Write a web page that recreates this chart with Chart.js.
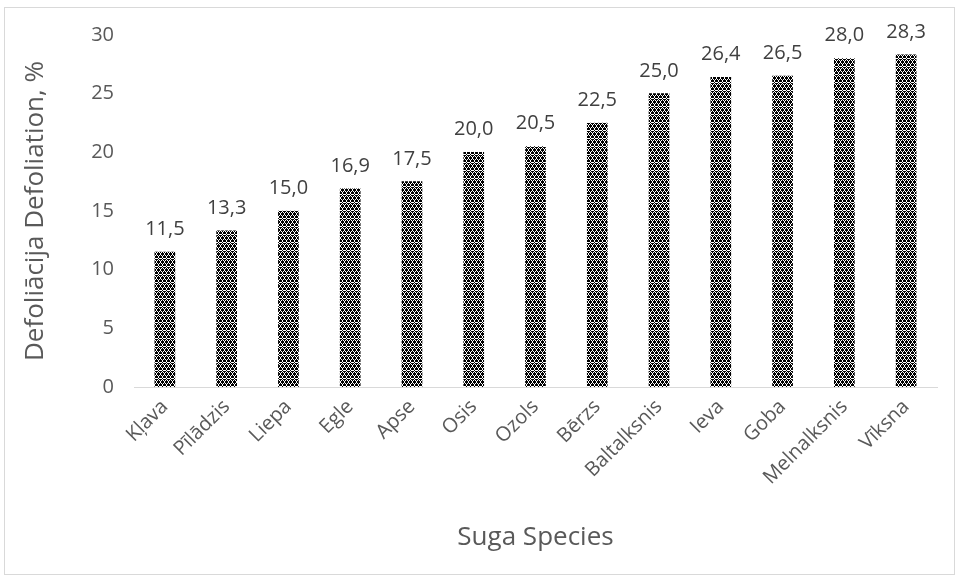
<!DOCTYPE html>
<html>
<head>
<meta charset="utf-8">
<script src="https://cdn.jsdelivr.net/npm/chart.js@4.4.1/dist/chart.umd.min.js"></script>
<style>
  html, body { margin: 0; padding: 0; background: #ffffff; }
  #wrap { position: relative; width: 959px; height: 579px; }
</style>
</head>
<body>
<div id="wrap"><canvas id="chart" width="959" height="579"></canvas></div>
<script>
// Tree species (Latvian names) and mean crown defoliation, %
const species = ["Kļava", "Pīlādzis", "Liepa", "Egle", "Apse", "Osis", "Ozols",
                 "Bērzs", "Baltalksnis", "Ieva", "Goba", "Melnalksnis", "Vīksna"];
const defoliation = [11.5, 13.3, 15.0, 16.9, 17.5, 20.0, 20.5, 22.5, 25.0, 26.4, 26.5, 28.0, 28.3];
const yTicks = [0, 5, 10, 15, 20, 25, 30];

const FONT = "'Open Sans', 'Noto Sans', sans-serif";
const TEXT = "#595959";

// Black-and-white 8x8 fill pattern for the bars
function makePattern() {
  const rows = [
    "XX.XXX.X",
    "XX.XXX.X",
    "..X...X.",
    "XX.XXX.X",
    "X.X.X.X.",
    ".XXX.XXX",
    ".XXX.XXX",
    "X.X.X.X."
  ];
  const c = document.createElement("canvas");
  c.width = 8; c.height = 8;
  const g = c.getContext("2d");
  g.fillStyle = "#ffffff";
  g.fillRect(0, 0, 8, 8);
  g.fillStyle = "#000000";
  rows.forEach((r, y) => {
    for (let x = 0; x < 8; x++) if (r[x] === "X") g.fillRect(x, y, 1, 1);
  });
  return document.getElementById("chart").getContext("2d").createPattern(c, "repeat");
}

// Thin grey frame around the whole chart
const framePlugin = {
  id: "frame",
  beforeDraw(chart) {
    const ctx = chart.ctx;
    ctx.save();
    ctx.fillStyle = "#ffffff";
    ctx.fillRect(0, 0, chart.width, chart.height);
    ctx.strokeStyle = "#d9d9d9";
    ctx.lineWidth = 1;
    ctx.strokeRect(4.5, 7.5, 950, 567);
    ctx.restore();
  }
};

// Value labels above each bar, with a decimal comma
const valueLabels = {
  id: "valueLabels",
  afterDatasetsDraw(chart) {
    const ctx = chart.ctx;
    const meta = chart.getDatasetMeta(0);
    ctx.save();
    ctx.font = "20px " + FONT;
    ctx.fillStyle = "#404040";
    ctx.textAlign = "center";
    ctx.textBaseline = "alphabetic";
    meta.data.forEach((bar, i) => {
      const v = chart.data.datasets[0].data[i];
      ctx.fillText(v.toFixed(1).replace(".", ","), bar.x, bar.y - 17);
    });
    ctx.restore();
  }
};

new Chart(document.getElementById("chart"), {
  type: "bar",
  data: {
    labels: species,
    datasets: [{
      data: defoliation,
      backgroundColor: makePattern(),
      borderWidth: 0,
      barThickness: 20
    }]
  },
  options: {
    responsive: false,
    animation: false,
    events: [],
    layout: { padding: { left: 8, right: 22, top: 35, bottom: 20 } },
    plugins: { legend: { display: false }, tooltip: { enabled: false } },
    scales: {
      y: {
        min: 0, max: 30,
        afterBuildTicks(axis) { axis.ticks = yTicks.map(v => ({ value: v })); },
        afterFit(axis) { axis.width = 126; },
        grid: { display: false, drawTicks: false },
        border: { display: false },
        ticks: { color: TEXT, font: { family: FONT, size: 20 }, padding: 20 },
        title: {
          display: true,
          text: "Defoliācija Defoliation, %",
          color: TEXT,
          font: { family: FONT, size: 26 },
          padding: { top: 12, bottom: 0 }
        }
      },
      x: {
        afterFit(axis) { axis.height = 172; },
        grid: { display: false, drawTicks: false },
        border: { display: true, color: "#d9d9d9", width: 1 },
        ticks: {
          color: TEXT, font: { family: FONT, size: 20 },
          minRotation: 45, maxRotation: 45, padding: 8, autoSkip: false
        },
        title: {
          display: true,
          text: "Suga Species",
          color: TEXT,
          font: { family: FONT, size: 26 },
          padding: { top: 0, bottom: 6 }
        }
      }
    }
  },
  plugins: [framePlugin, valueLabels]
});
</script>
</body>
</html>
